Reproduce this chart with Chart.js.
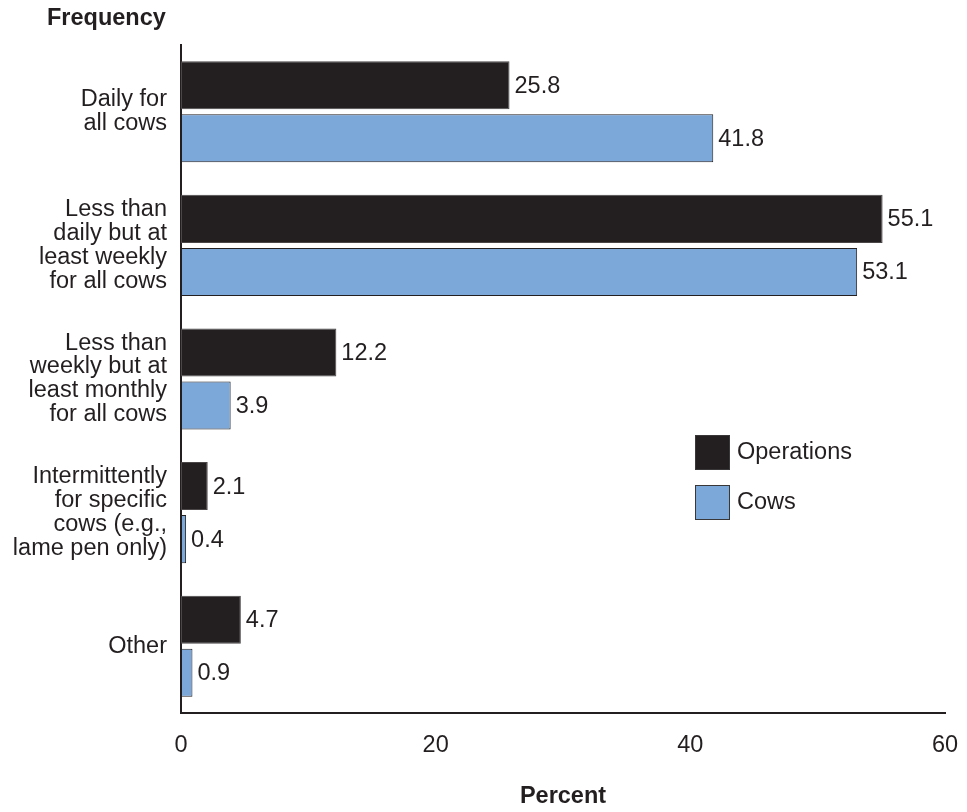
<!DOCTYPE html>
<html>
<head>
<meta charset="utf-8">
<script src="https://cdn.jsdelivr.net/npm/chart.js@4"></script>
<style>
  html, body { margin: 0; padding: 0; background: #ffffff; }
  #wrap { width: 967px; height: 812px; position: relative; }
</style>
</head>
<body>
<div id="wrap"><canvas id="chart"></canvas></div>
<script>
const categories = [
    ['Daily for', 'all cows'],
    ['Less than', 'daily but at', 'least weekly', 'for all cows'],
    ['Less than', 'weekly but at', 'least monthly', 'for all cows'],
    ['Intermittently', 'for specific', 'cows (e.g.,', 'lame pen only)'],
    'Other'
];
const operations = [25.8, 55.1, 12.2, 2.1, 4.7];
const cows = [41.8, 53.1, 3.9, 0.4, 0.9];
const seriesNames = ['Operations', 'Cows'];
const xTicks = [0, 20, 40, 60];

const ink = '#231f20';
const family = '"Liberation Sans", Arial, Helvetica, sans-serif';
const fontSize = 23.5;

// value labels at the end of each bar
const valueLabels = {
    id: 'valueLabels',
    afterDatasetsDraw(chart) {
        const ctx = chart.ctx;
        ctx.save();
        ctx.font = `${fontSize}px ${family}`;
        ctx.fillStyle = ink;
        ctx.textAlign = 'left';
        ctx.textBaseline = 'middle';
        chart.data.datasets.forEach((ds, i) => {
            chart.getDatasetMeta(i).data.forEach((bar, j) => {
                ctx.fillText(ds.data[j].toFixed(1), bar.x + 5, bar.y + 1);
            });
        });
        ctx.restore();
    }
};

// legend inside the plot + "Frequency" heading
const extras = {
    id: 'extras',
    afterDraw(chart) {
        const ctx = chart.ctx;
        const area = chart.chartArea;
        ctx.save();
        ctx.font = `bold ${fontSize}px ${family}`;
        ctx.fillStyle = ink;
        ctx.textAlign = 'left';
        ctx.textBaseline = 'middle';
        ctx.fillText('Frequency', 47, 19);

        ctx.font = `${fontSize}px ${family}`;
        const bx = area.left + 514;
        let by = 435;
        chart.data.datasets.forEach(ds => {
            ctx.fillStyle = ds.backgroundColor;
            ctx.fillRect(bx, by, 35, 35);
            ctx.strokeStyle = '#3a3738';
            ctx.lineWidth = 1;
            ctx.strokeRect(bx + 0.5, by + 0.5, 34, 34);
            ctx.fillStyle = ink;
            ctx.fillText(ds.label, bx + 42, by + 18);
            by += 50;
        });
        ctx.restore();
    }
};

new Chart(document.getElementById('chart'), {
    type: 'bar',
    data: {
        labels: categories,
        datasets: [
            {
                label: seriesNames[0],
                data: operations,
                backgroundColor: ink,
                borderColor: '#4a4647',
                borderWidth: 1,
                borderSkipped: false
            },
            {
                label: seriesNames[1],
                data: cows,
                backgroundColor: '#7ba7d9',
                borderColor: ink,
                borderWidth: 1,
                borderSkipped: false
            }
        ]
    },
    options: {
        indexAxis: 'y',
        responsive: true,
        maintainAspectRatio: false,
        animation: false,
        categoryPercentage: 0.794,
        barPercentage: 0.906,
        layout: { padding: { top: 45, right: 0, bottom: 0, left: 0 } },
        scales: {
            x: {
                min: 0,
                max: 60,
                afterBuildTicks(scale) {
                    scale.ticks = xTicks.map(v => ({ value: v }));
                },
                afterFit(scale) {
                    scale.height = 99;
                    scale.paddingLeft = 0;
                    scale.paddingRight = 22;
                },
                grid: { display: false, drawTicks: false },
                border: { display: true, color: ink, width: 2 },
                ticks: {
                    color: ink,
                    padding: 18,
                    font: { family: family, size: fontSize },
                    maxRotation: 0
                },
                title: {
                    display: true,
                    text: 'Percent',
                    color: ink,
                    font: { family: family, size: fontSize, weight: 'bold' },
                    padding: { top: 0, bottom: 1 }
                }
            },
            y: {
                afterFit(scale) { scale.width = 181; },
                grid: { display: false, drawTicks: false },
                border: { display: true, color: ink, width: 2 },
                ticks: {
                    color: ink,
                    padding: 14,
                    font: { family: family, size: fontSize, lineHeight: 1.02 }
                }
            }
        },
        plugins: {
            legend: { display: false },
            tooltip: { enabled: false }
        }
    },
    plugins: [valueLabels, extras]
});
</script>
</body>
</html>
